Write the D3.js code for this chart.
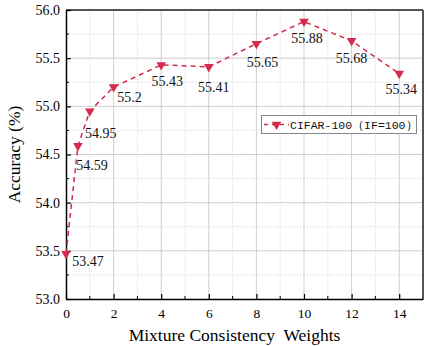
<!DOCTYPE html>
<html><head><meta charset="utf-8">
<script src="https://cdn.jsdelivr.net/npm/d3@7"></script>
<style>body{margin:0;background:#fff}svg{display:block}text{white-space:pre}</style>
</head><body>
<script>
const weights = [0, 0.5, 1, 2, 4, 6, 8, 10, 12, 14];
const accuracy = [53.47, 54.59, 54.95, 55.2, 55.43, 55.41, 55.65, 55.88, 55.68, 55.34];
const valueLabels = ["53.47", "54.59", "54.95", "55.2", "55.43", "55.41", "55.65", "55.88", "55.68", "55.34"];
const xTicks = [0, 2, 4, 6, 8, 10, 12, 14];
const yTicks = [53.0, 53.5, 54.0, 54.5, 55.0, 55.5, 56.0];
const seriesName = "CIFAR-100（IF=100）";
const xTitle = "Mixture Consistency  Weights";
const yTitle = "Accuracy (%)";

// layout constants (pixel offsets of value labels relative to their point)
const labelOffsets = [[22, 8], [14, 20], [11, 22], [16, 10], [6, 17], [5, 21], [6, 19], [3, 17], [0, 18], [2, 16]];

const W = 428, H = 346;
const m = {left: 66, right: 5, top: 10, bottom: 47};
const color = "#d42a4c";
const serif = "'Liberation Serif','Times New Roman',serif";

const svg = d3.select("body").append("svg").attr("width", W).attr("height", H);
const x = d3.scaleLinear().domain([0, 15]).range([m.left, W - m.right]);
const y = d3.scaleLinear().domain([53, 56]).range([H - m.bottom, m.top]);

const g = svg.append("g");
// minor grid
const xMinor = d3.range(1, 15, 2);
const yMinor = d3.range(53.25, 56, 0.5);
g.selectAll(".xm").data(xMinor).join("line")
  .attr("x1", d => x(d)).attr("x2", d => x(d)).attr("y1", y(53)).attr("y2", y(56))
  .attr("stroke", "#d4d4d4").attr("stroke-width", 0.8).attr("stroke-dasharray", "1.5,1.5");
g.selectAll(".ym").data(yMinor).join("line")
  .attr("x1", x(0)).attr("x2", x(15)).attr("y1", d => y(d)).attr("y2", d => y(d))
  .attr("stroke", "#d4d4d4").attr("stroke-width", 0.8).attr("stroke-dasharray", "1.5,1.5");
// major grid
g.selectAll(".xM").data(xTicks.filter(d => d > 0)).join("line")
  .attr("x1", d => x(d)).attr("x2", d => x(d)).attr("y1", y(53)).attr("y2", y(56))
  .attr("stroke", "#cfcfcf").attr("stroke-width", 1);
g.selectAll(".yM").data(yTicks.filter(d => d > 53 && d < 56)).join("line")
  .attr("x1", x(0)).attr("x2", x(15)).attr("y1", d => y(d)).attr("y2", d => y(d))
  .attr("stroke", "#cfcfcf").attr("stroke-width", 1);

// frame top/right
svg.append("line").attr("x1", x(0)).attr("x2", x(15)).attr("y1", y(56)).attr("y2", y(56))
  .attr("stroke", "#555").attr("stroke-width", 2);
svg.append("line").attr("x1", x(15)).attr("x2", x(15)).attr("y1", y(56)).attr("y2", y(53))
  .attr("stroke", "#555").attr("stroke-width", 2);

// axes
const xAxis = svg.append("g").attr("transform", `translate(0,${y(53)})`)
  .call(d3.axisBottom(x).tickValues(xTicks).tickFormat(d3.format("d")).tickSizeInner(-5).tickSizeOuter(0).tickPadding(9));
const yAxis = svg.append("g").attr("transform", `translate(${x(0)},0)`)
  .call(d3.axisLeft(y).tickValues(yTicks).tickFormat(d3.format(".1f")).tickSizeInner(-5).tickSizeOuter(0).tickPadding(6));
[xAxis, yAxis].forEach(a => {
  a.attr("font-family", null).attr("font-size", null);
  a.select(".domain").attr("stroke", "#000").attr("stroke-width", 1.5);
  a.selectAll(".tick line").attr("stroke", "#000").attr("stroke-width", 1.2);
  a.selectAll("text").style("font-family", serif).attr("fill", "#000");
});
xAxis.selectAll("text").style("font-size", "13.5px");
yAxis.selectAll("text").style("font-size", "14px");
// minor ticks
svg.selectAll(".xmt").data(xMinor).join("line")
  .attr("x1", d => x(d)).attr("x2", d => x(d)).attr("y1", y(53)).attr("y2", y(53) - 3)
  .attr("stroke", "#000").attr("stroke-width", 1);
svg.selectAll(".ymt").data(yMinor).join("line")
  .attr("x1", x(0)).attr("x2", x(0) + 3).attr("y1", d => y(d)).attr("y2", d => y(d))
  .attr("stroke", "#000").attr("stroke-width", 1);

// line
const pts = weights.map((w, i) => [w, accuracy[i]]);
svg.append("path").datum(pts)
  .attr("d", d3.line().x(d => x(d[0])).y(d => y(d[1])))
  .attr("fill", "none").attr("stroke", color).attr("stroke-width", 1.5).attr("stroke-dasharray", "5,4");

const tri = d3.symbol().type(d3.symbolTriangle).size(40);
svg.selectAll(".mk").data(pts).join("path")
  .attr("d", tri).attr("fill", color)
  .attr("transform", d => `translate(${x(d[0])},${y(d[1])}) rotate(180)`);

svg.selectAll(".lbl").data(pts).join("text")
  .attr("x", (d, i) => x(d[0]) + labelOffsets[i][0])
  .attr("y", (d, i) => y(d[1]) + labelOffsets[i][1])
  .attr("text-anchor", "middle").attr("dominant-baseline", "central")
  .style("font-family", serif).style("font-size", "14px").attr("fill", "#111")
  .text((d, i) => valueLabels[i]);

// legend
const lg = svg.append("g");
lg.append("rect").attr("x", 261.5).attr("y", 115.5).attr("width", 155).attr("height", 18)
  .attr("fill", "#fff").attr("stroke", "#888").attr("stroke-width", 1);
lg.append("line").attr("x1", 264).attr("x2", 289).attr("y1", 124.5).attr("y2", 124.5)
  .attr("stroke", color).attr("stroke-width", 1.5).attr("stroke-dasharray", "4,4");
lg.append("path").attr("d", tri).attr("fill", color).attr("transform", "translate(276.5,124.5) rotate(180)");
lg.append("text").attr("x", 290).attr("y", 125).attr("dominant-baseline", "central")
  .style("font-family", "'Liberation Mono','DejaVu Sans Mono',monospace").style("font-size", "11.5px").attr("fill", "#111")
  .text(seriesName);

// titles
svg.append("text").attr("x", (x(0) + x(15)) / 2 - 10).attr("y", 340.5).attr("text-anchor", "middle")
  .style("font-family", serif).style("font-size", "17.5px").text(xTitle);
svg.append("text").attr("transform", `translate(14,${(y(53) + y(56)) / 2}) rotate(-90)`)
  .attr("text-anchor", "middle").attr("dominant-baseline", "central")
  .style("font-family", serif).style("font-size", "17.5px").text(yTitle);
</script>
</body></html>
